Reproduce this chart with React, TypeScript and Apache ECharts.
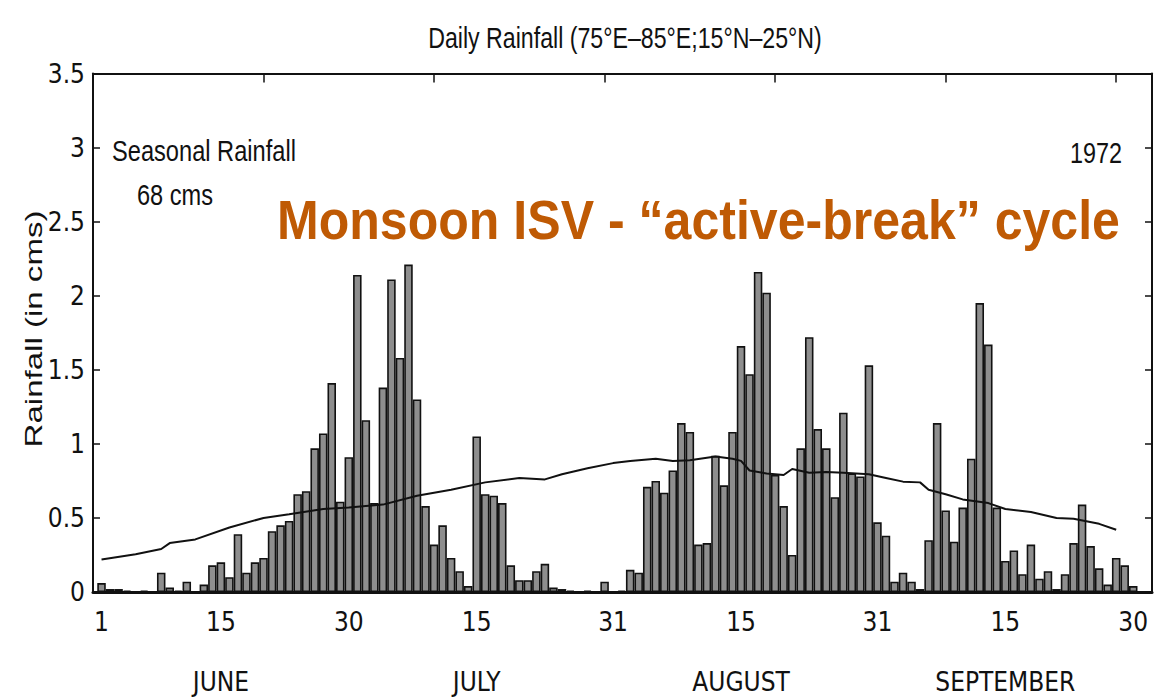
import React, { useEffect, useRef } from "react";
import * as echarts from "echarts";

// Daily rainfall (cm), 1 June – 30 September 1972 (122 days)
const juneRain = [
  0.06, 0.02, 0.02, 0.01, 0.0, 0.01, 0.0, 0.13, 0.03, 0.01,
  0.07, 0.0, 0.05, 0.18, 0.2, 0.1, 0.39, 0.13, 0.2, 0.23,
  0.41, 0.45, 0.48, 0.66, 0.68, 0.97, 1.07, 1.41, 0.61, 0.91,
];
const julyRain = [
  2.14, 1.16, 0.6, 1.38, 2.11, 1.58, 2.21, 1.3, 0.58, 0.32,
  0.45, 0.23, 0.14, 0.04, 1.05, 0.66, 0.65, 0.6, 0.18, 0.08,
  0.08, 0.14, 0.19, 0.03, 0.02, 0.01, 0.0, 0.01, 0.0, 0.07, 0.0,
];
const augustRain = [
  0.01, 0.15, 0.13, 0.71, 0.75, 0.67, 0.82, 1.14, 1.08, 0.32,
  0.33, 0.92, 0.72, 1.08, 1.66, 1.47, 2.16, 2.02, 0.79, 0.58,
  0.25, 0.97, 1.72, 1.1, 0.97, 0.64, 1.21, 0.8, 0.78, 1.53, 0.47,
];
const septemberRain = [
  0.38, 0.07, 0.13, 0.07, 0.02, 0.35, 1.14, 0.55, 0.34, 0.57,
  0.9, 1.95, 1.67, 0.57, 0.21, 0.28, 0.12, 0.32, 0.09, 0.14,
  0.02, 0.12, 0.33, 0.59, 0.31, 0.16, 0.05, 0.23, 0.18, 0.04,
];

// Climatological mean curve, sampled (day of season, cm)
const climDays = [
  1, 5, 8, 9, 12, 16, 20, 23, 27, 30, 34, 38, 42, 46, 50, 53, 55, 58, 61, 63,
  66, 68, 70, 73, 75, 76, 77, 79, 81, 82, 84, 86, 88, 91, 93, 95, 97, 98, 100,
  102, 105, 107, 110, 113, 115, 118, 120,
];
const climValues = [
  0.22, 0.255, 0.29, 0.33, 0.355, 0.435, 0.5, 0.525, 0.56, 0.57, 0.59, 0.65,
  0.69, 0.74, 0.77, 0.76, 0.795, 0.835, 0.87, 0.885, 0.9, 0.885, 0.89, 0.915,
  0.9, 0.885, 0.82, 0.8, 0.79, 0.83, 0.805, 0.81, 0.805, 0.795, 0.77, 0.745,
  0.74, 0.69, 0.66, 0.625, 0.6, 0.56, 0.54, 0.5, 0.495, 0.46, 0.42,
];

// Bottom axis tick labels (day of season -> label)
const tickDays = [1, 15, 30, 45, 61, 76, 92, 107, 122];
const tickLabels = ["1", "15", "30", "15", "31", "15", "31", "15", "30"];
const monthNames = ["JUNE", "JULY", "AUGUST", "SEPTEMBER"];
const monthLabelDays = [15, 45, 76, 107];

const yTicks = [0, 0.5, 1, 1.5, 2, 2.5, 3, 3.5];

const TITLE = "Daily Rainfall (75°E–85°E;15°N–25°N)";
const SEASONAL = "Seasonal Rainfall";
const SEASONAL_VALUE = "68 cms";
const YEAR = "1972";
const HEADLINE = "Monsoon ISV - “active-break” cycle";
const Y_NAME = "Rainfall (in cms)";

const SANS = "'Liberation Sans', Arial, sans-serif";
const NARROW = "'Liberation Sans Narrow', 'Arial Narrow', 'DejaVu Sans Condensed', 'Liberation Sans', Arial, sans-serif";

function fit(text: string, font: string, target: number): number {
  const c = document.createElement("canvas").getContext("2d");
  if (!c) return 1;
  c.font = font;
  const w = c.measureText(text).width;
  return w > 0 ? target / w : 1;
}

export default function App() {
  const ref = useRef<HTMLDivElement>(null);

  useEffect(() => {
    if (!ref.current) return;
    const chart = echarts.init(ref.current, null, { renderer: "svg" });
    const rain = [...juneRain, ...julyRain, ...augustRain, ...septemberRain];
    const barData = rain.map((v, i) => [i + 1, v]);
    const lineData = climDays.map((d, i) => [d, climValues[i]]);

    const fTitle = "29px " + SANS;
    const fNote = "30px " + SANS;
    const fHead = "bold 56px " + SANS;
    const fName = "24px " + SANS;

    const option: any = {
      animation: false,
      backgroundColor: "#ffffff",
      grid: { left: 93, right: 7, top: 73.5, bottom: 107, containLabel: false },
      xAxis: [
        {
          type: "value",
          position: "bottom",
          min: 0,
          max: 124.2,
          splitLine: { show: false },
          axisLine: { show: true, onZero: false, lineStyle: { color: "#111", width: 3 } },
          axisTick: { show: false },
          axisLabel: {
            customValues: tickDays,
            margin: 15,
            color: "#111",
            fontFamily: NARROW,
            fontSize: 26,
            lineHeight: 30,
            formatter: (v: number) => {
              const k = tickDays.indexOf(Math.round(v));
              if (k < 0) return "";
              const m = monthLabelDays.indexOf(Math.round(v));
              return m >= 0 ? tickLabels[k] + "\n\n" + monthNames[m] : tickLabels[k];
            },
          },
        },
        {
          type: "value",
          position: "top",
          min: 0,
          max: 124.2,
          interval: 20,
          splitLine: { show: false },
          axisLine: { show: true, onZero: false, lineStyle: { color: "#111", width: 2 } },
          axisTick: { show: true, inside: true, length: 9, lineStyle: { color: "#111", width: 1.5 } },
          axisLabel: { show: false },
        },
      ],
      yAxis: [
        {
          type: "value",
          position: "left",
          min: 0,
          max: 3.5,
          interval: 0.5,
          splitLine: { show: false },
          axisLine: { show: true, onZero: false, lineStyle: { color: "#111", width: 2 } },
          axisTick: { show: true, inside: true, length: 7, lineStyle: { color: "#111", width: 1.5 } },
          axisLabel: {
            color: "#111",
            fontFamily: NARROW,
            fontSize: 26,
            margin: 8,
            formatter: (v: number) => (yTicks.indexOf(v) >= 0 ? String(v) : ""),
          },
        },
        {
          type: "value",
          position: "right",
          min: 0,
          max: 3.5,
          interval: 0.5,
          splitLine: { show: false },
          axisLine: { show: true, onZero: false, lineStyle: { color: "#111", width: 2 } },
          axisTick: { show: true, inside: true, length: 7, lineStyle: { color: "#111", width: 1.5 } },
          axisLabel: { show: false },
        },
      ],
      graphic: [
        {
          type: "text",
          x: 625,
          y: 38,
          scaleX: fit(TITLE, fTitle, 394),
          style: { text: TITLE, fill: "#111", font: fTitle, align: "center", verticalAlign: "middle" },
        },
        {
          type: "text",
          x: 112,
          y: 151,
          scaleX: fit(SEASONAL, fNote, 184),
          style: { text: SEASONAL, fill: "#111", font: fNote, align: "left", verticalAlign: "middle" },
        },
        {
          type: "text",
          x: 137,
          y: 195,
          scaleX: fit(SEASONAL_VALUE, fNote, 76),
          style: { text: SEASONAL_VALUE, fill: "#111", font: fNote, align: "left", verticalAlign: "middle" },
        },
        {
          type: "text",
          x: 1122,
          y: 153,
          scaleX: fit(YEAR, fNote, 52),
          style: { text: YEAR, fill: "#111", font: fNote, align: "right", verticalAlign: "middle" },
        },
        {
          type: "text",
          x: 277,
          y: 219,
          scaleX: fit(HEADLINE, fHead, 843),
          style: { text: HEADLINE, fill: "#bf5a04", font: fHead, align: "left", verticalAlign: "middle" },
        },
        {
          type: "text",
          x: 34,
          y: 329,
          rotation: Math.PI / 2,
          scaleX: fit(Y_NAME, fName, 237),
          style: { text: Y_NAME, fill: "#111", font: fName, align: "center", verticalAlign: "middle" },
        },
      ],
      series: [
        {
          type: "bar",
          xAxisIndex: 0,
          yAxisIndex: 0,
          data: barData,
          barWidth: 8.5,
          itemStyle: { color: "#8e8e8e", borderColor: "#111", borderWidth: 1.6 },
          z: 2,
        },
        {
          type: "line",
          xAxisIndex: 0,
          yAxisIndex: 0,
          data: lineData,
          symbol: "none",
          lineStyle: { color: "#111", width: 2 },
          z: 3,
        },
      ],
    };
    chart.setOption(option);
    return () => chart.dispose();
  }, []);

  return (
    <div
      ref={ref}
      style={{ position: "absolute", left: 0, top: 0, width: 1159, height: 699, background: "#fff" }}
    />
  );
}
